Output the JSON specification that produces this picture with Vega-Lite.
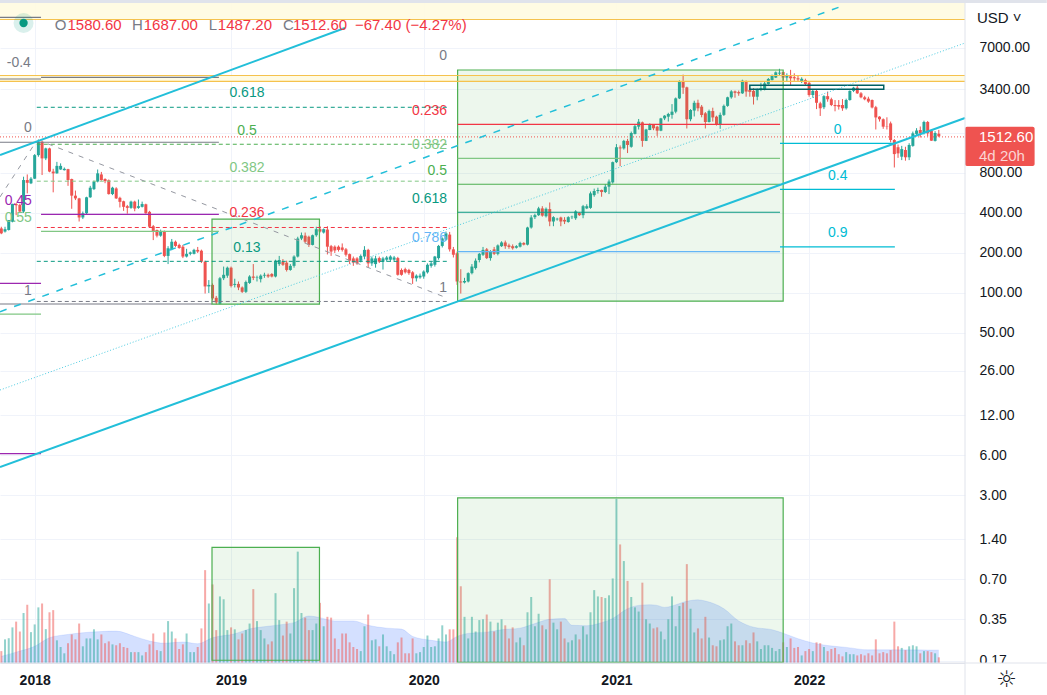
{
"$schema":"https://vega.github.io/schema/vega-lite/v6.json",
"width":965,"height":663,
"autosize":{"type":"none"},
"padding":{"left":0,"top":0,"right":82,"bottom":32},
"background":"#ffffff",
"config":{"view":{"stroke":null},"font":"Liberation Sans"},
"datasets":{
"w":[
{"d":"2017-10-30","o":306,"h":315,"l":277,"c":281,"v":0.2015},
{"d":"2017-11-06","o":290,"h":315,"l":285,"c":302,"v":0.247},
{"d":"2017-11-13","o":298,"h":354,"l":295,"c":354,"v":0.252},
{"d":"2017-11-20","o":344,"h":470,"l":340,"c":467,"v":0.304},
{"d":"2017-11-27","o":467,"h":475,"l":385,"c":457,"v":0.336},
{"d":"2017-12-04","o":460,"h":470,"l":400,"c":410,"v":0.283},
{"d":"2017-12-11","o":410,"h":750,"l":400,"c":708,"v":0.39},
{"d":"2017-12-18","o":708,"h":780,"l":562,"c":675,"v":0.45},
{"d":"2017-12-25","o":669,"h":745,"l":660,"c":725,"v":0.28},
{"d":"2018-01-01","o":725,"h":1110,"l":720,"c":1090,"v":0.32},
{"d":"2018-01-08","o":1090,"h":1430,"l":1060,"c":1375,"v":0.43},
{"d":"2018-01-15","o":1375,"h":1400,"l":772,"c":1030,"v":0.46},
{"d":"2018-01-22","o":1030,"h":1240,"l":1000,"c":1225,"v":0.295},
{"d":"2018-01-29","o":1225,"h":1240,"l":810,"c":820,"v":0.395},
{"d":"2018-02-05","o":820,"h":860,"l":572,"c":795,"v":0.41},
{"d":"2018-02-12","o":795,"h":970,"l":790,"c":905,"v":0.243},
{"d":"2018-02-19","o":850,"h":945,"l":845,"c":905,"v":0.2165},
{"d":"2018-02-26","o":840,"h":880,"l":835,"c":860,"v":0.194},
{"d":"2018-03-05","o":855,"h":860,"l":640,"c":708,"v":0.231},
{"d":"2018-03-12","o":720,"h":725,"l":430,"c":540,"v":0.269},
{"d":"2018-03-19","o":540,"h":590,"l":500,"c":515,"v":0.247},
{"d":"2018-03-26","o":515,"h":520,"l":345,"c":370,"v":0.325},
{"d":"2018-04-02","o":370,"h":410,"l":360,"c":398,"v":0.219},
{"d":"2018-04-09","o":398,"h":530,"l":390,"c":525,"v":0.251},
{"d":"2018-04-16","o":525,"h":640,"l":520,"c":620,"v":0.251},
{"d":"2018-04-23","o":605,"h":700,"l":595,"c":690,"v":0.294},
{"d":"2018-04-30","o":690,"h":850,"l":680,"c":795,"v":0.247},
{"d":"2018-05-07","o":780,"h":815,"l":700,"c":708,"v":0.269},
{"d":"2018-05-14","o":720,"h":730,"l":670,"c":695,"v":0.231},
{"d":"2018-05-21","o":705,"h":715,"l":550,"c":555,"v":0.2385},
{"d":"2018-05-28","o":555,"h":630,"l":545,"c":620,"v":0.2265},
{"d":"2018-06-04","o":612,"h":625,"l":510,"c":515,"v":0.223},
{"d":"2018-06-11","o":520,"h":530,"l":440,"c":485,"v":0.231},
{"d":"2018-06-18","o":490,"h":495,"l":415,"c":445,"v":0.2165},
{"d":"2018-06-25","o":450,"h":460,"l":395,"c":437,"v":0.213},
{"d":"2018-07-02","o":437,"h":495,"l":430,"c":487,"v":0.198},
{"d":"2018-07-09","o":487,"h":495,"l":412,"c":432,"v":0.198},
{"d":"2018-07-16","o":437,"h":505,"l":430,"c":450,"v":0.198},
{"d":"2018-07-23","o":445,"h":487,"l":440,"c":467,"v":0.187},
{"d":"2018-07-30","o":465,"h":470,"l":395,"c":398,"v":0.198},
{"d":"2018-08-06","o":408,"h":415,"l":310,"c":315,"v":0.2265},
{"d":"2018-08-13","o":318,"h":325,"l":250,"c":290,"v":0.2735},
{"d":"2018-08-20","o":298,"h":300,"l":262,"c":270,"v":0.205},
{"d":"2018-08-27","o":270,"h":300,"l":265,"c":291,"v":0.2015},
{"d":"2018-09-03","o":291,"h":295,"l":186,"c":190,"v":0.2785},
{"d":"2018-09-10","o":190,"h":225,"l":165,"c":217,"v":0.339},
{"d":"2018-09-17","o":214,"h":255,"l":210,"c":243,"v":0.283},
{"d":"2018-09-24","o":243,"h":248,"l":222,"c":226,"v":0.251},
{"d":"2018-10-01","o":230,"h":235,"l":215,"c":218,"v":0.209},
{"d":"2018-10-08","o":223,"h":230,"l":183,"c":188,"v":0.2265},
{"d":"2018-10-15","o":188,"h":215,"l":185,"c":197,"v":0.2735},
{"d":"2018-10-22","o":197,"h":205,"l":192,"c":202,"v":0.198},
{"d":"2018-10-29","o":197,"h":215,"l":195,"c":211,"v":0.198},
{"d":"2018-11-05","o":211,"h":222,"l":200,"c":205,"v":0.2165},
{"d":"2018-11-12","o":208,"h":212,"l":168,"c":172,"v":0.2987},
{"d":"2018-11-19","o":172,"h":175,"l":99,"c":112,"v":0.82},
{"d":"2018-11-26","o":112,"h":125,"l":100,"c":115,"v":0.46},
{"d":"2018-12-03","o":115,"h":118,"l":88,"c":91,"v":0.64},
{"d":"2018-12-10","o":92,"h":95,"l":82,"c":85,"v":0.29},
{"d":"2018-12-17","o":83,"h":132,"l":82,"c":129,"v":0.52},
{"d":"2018-12-24","o":129,"h":158,"l":125,"c":137,"v":0.495},
{"d":"2018-12-31","o":135,"h":158,"l":130,"c":155,"v":0.29},
{"d":"2019-01-07","o":155,"h":158,"l":110,"c":113,"v":0.304},
{"d":"2019-01-14","o":115,"h":128,"l":110,"c":117,"v":0.294},
{"d":"2019-01-21","o":117,"h":122,"l":105,"c":110,"v":0.247},
{"d":"2019-01-28","o":110,"h":112,"l":100,"c":102,"v":0.2735},
{"d":"2019-02-04","o":102,"h":124,"l":100,"c":121,"v":0.29},
{"d":"2019-02-11","o":119,"h":136,"l":117,"c":133,"v":0.325},
{"d":"2019-02-18","o":133,"h":165,"l":125,"c":130,"v":0.59},
{"d":"2019-02-25","o":130,"h":135,"l":122,"c":131,"v":0.339},
{"d":"2019-03-04","o":127,"h":138,"l":120,"c":135,"v":0.29},
{"d":"2019-03-11","o":135,"h":142,"l":130,"c":137,"v":0.251},
{"d":"2019-03-18","o":137,"h":140,"l":130,"c":133,"v":0.2265},
{"d":"2019-03-25","o":139,"h":141,"l":131,"c":133,"v":0.2385},
{"d":"2019-04-01","o":133,"h":178,"l":131,"c":175,"v":0.55},
{"d":"2019-04-08","o":165,"h":190,"l":160,"c":177,"v":0.345},
{"d":"2019-04-15","o":172,"h":180,"l":160,"c":163,"v":0.264},
{"d":"2019-04-22","o":169,"h":175,"l":145,"c":149,"v":0.336},
{"d":"2019-04-29","o":149,"h":165,"l":147,"c":160,"v":0.2735},
{"d":"2019-05-06","o":160,"h":192,"l":155,"c":188,"v":0.6},
{"d":"2019-05-13","o":188,"h":265,"l":185,"c":257,"v":1.13},
{"d":"2019-05-20","o":257,"h":285,"l":250,"c":272,"v":0.39},
{"d":"2019-05-27","o":270,"h":285,"l":238,"c":243,"v":0.36},
{"d":"2019-06-03","o":265,"h":270,"l":222,"c":230,"v":0.29},
{"d":"2019-06-10","o":230,"h":275,"l":228,"c":272,"v":0.29},
{"d":"2019-06-17","o":272,"h":315,"l":265,"c":302,"v":0.325},
{"d":"2019-06-24","o":302,"h":318,"l":285,"c":290,"v":0.465},
{"d":"2019-07-01","o":285,"h":306,"l":280,"c":302,"v":0.31},
{"d":"2019-07-08","o":300,"h":318,"l":195,"c":223,"v":0.365},
{"d":"2019-07-15","o":225,"h":230,"l":190,"c":205,"v":0.36},
{"d":"2019-07-22","o":223,"h":228,"l":200,"c":209,"v":0.251},
{"d":"2019-07-29","o":223,"h":228,"l":205,"c":211,"v":0.209},
{"d":"2019-08-05","o":220,"h":236,"l":205,"c":211,"v":0.2735},
{"d":"2019-08-12","o":213,"h":218,"l":188,"c":194,"v":0.2735},
{"d":"2019-08-19","o":196,"h":198,"l":165,"c":175,"v":0.2345},
{"d":"2019-08-26","o":182,"h":188,"l":160,"c":169,"v":0.2165},
{"d":"2019-09-02","o":182,"h":186,"l":163,"c":167,"v":0.209},
{"d":"2019-09-09","o":175,"h":195,"l":170,"c":190,"v":0.2015},
{"d":"2019-09-16","o":188,"h":225,"l":180,"c":211,"v":0.31},
{"d":"2019-09-23","o":211,"h":215,"l":155,"c":167,"v":0.38},
{"d":"2019-09-30","o":167,"h":188,"l":160,"c":182,"v":0.243},
{"d":"2019-10-07","o":165,"h":190,"l":155,"c":182,"v":0.247},
{"d":"2019-10-14","o":183,"h":188,"l":168,"c":172,"v":0.219},
{"d":"2019-10-21","o":172,"h":187,"l":150,"c":182,"v":0.269},
{"d":"2019-10-28","o":178,"h":190,"l":172,"c":185,"v":0.219},
{"d":"2019-11-04","o":178,"h":192,"l":172,"c":188,"v":0.2015},
{"d":"2019-11-11","o":178,"h":190,"l":172,"c":185,"v":0.191},
{"d":"2019-11-18","o":183,"h":187,"l":135,"c":137,"v":0.2345},
{"d":"2019-11-25","o":149,"h":153,"l":135,"c":137,"v":0.255},
{"d":"2019-12-02","o":151,"h":155,"l":140,"c":143,"v":0.194},
{"d":"2019-12-09","o":149,"h":152,"l":137,"c":141,"v":0.194},
{"d":"2019-12-16","o":143,"h":146,"l":117,"c":129,"v":0.251},
{"d":"2019-12-23","o":129,"h":138,"l":122,"c":135,"v":0.194},
{"d":"2019-12-30","o":131,"h":140,"l":128,"c":135,"v":0.198},
{"d":"2020-01-06","o":133,"h":148,"l":128,"c":145,"v":0.2165},
{"d":"2020-01-13","o":143,"h":167,"l":140,"c":163,"v":0.264},
{"d":"2020-01-20","o":160,"h":172,"l":155,"c":167,"v":0.2165},
{"d":"2020-01-27","o":163,"h":190,"l":158,"c":188,"v":0.219},
{"d":"2020-02-03","o":183,"h":230,"l":178,"c":226,"v":0.251},
{"d":"2020-02-10","o":226,"h":262,"l":220,"c":257,"v":0.315},
{"d":"2020-02-17","o":252,"h":290,"l":248,"c":281,"v":0.269},
{"d":"2020-02-24","o":275,"h":288,"l":205,"c":213,"v":0.294},
{"d":"2020-03-02","o":213,"h":222,"l":185,"c":194,"v":0.294},
{"d":"2020-03-09","o":199,"h":205,"l":115,"c":122,"v":1.45},
{"d":"2020-03-16","o":122,"h":151,"l":99,"c":120,"v":0.62},
{"d":"2020-03-23","o":120,"h":130,"l":118,"c":123,"v":0.365},
{"d":"2020-03-30","o":122,"h":143,"l":120,"c":141,"v":0.251},
{"d":"2020-04-06","o":141,"h":165,"l":138,"c":158,"v":0.365},
{"d":"2020-04-13","o":154,"h":182,"l":150,"c":175,"v":0.283},
{"d":"2020-04-20","o":177,"h":200,"l":170,"c":197,"v":0.345},
{"d":"2020-04-27","o":194,"h":222,"l":190,"c":211,"v":0.35},
{"d":"2020-05-04","o":213,"h":218,"l":180,"c":183,"v":0.38},
{"d":"2020-05-11","o":183,"h":210,"l":175,"c":205,"v":0.336},
{"d":"2020-05-18","o":213,"h":222,"l":193,"c":197,"v":0.283},
{"d":"2020-05-25","o":197,"h":232,"l":192,"c":228,"v":0.33},
{"d":"2020-06-01","o":225,"h":245,"l":222,"c":240,"v":0.35},
{"d":"2020-06-08","o":240,"h":248,"l":215,"c":225,"v":0.315},
{"d":"2020-06-15","o":228,"h":235,"l":215,"c":222,"v":0.251},
{"d":"2020-06-22","o":225,"h":232,"l":212,"c":217,"v":0.304},
{"d":"2020-06-29","o":219,"h":229,"l":216,"c":225,"v":0.2345},
{"d":"2020-07-06","o":223,"h":243,"l":220,"c":238,"v":0.255},
{"d":"2020-07-13","o":238,"h":241,"l":228,"c":231,"v":0.223},
{"d":"2020-07-20","o":231,"h":315,"l":228,"c":311,"v":0.395},
{"d":"2020-07-27","o":311,"h":385,"l":305,"c":370,"v":0.515},
{"d":"2020-08-03","o":372,"h":395,"l":360,"c":385,"v":0.31},
{"d":"2020-08-10","o":385,"h":445,"l":380,"c":433,"v":0.385},
{"d":"2020-08-17","o":433,"h":450,"l":375,"c":382,"v":0.315},
{"d":"2020-08-24","o":378,"h":440,"l":370,"c":430,"v":0.294},
{"d":"2020-08-31","o":428,"h":480,"l":318,"c":345,"v":0.7},
{"d":"2020-09-07","o":345,"h":378,"l":318,"c":372,"v":0.33},
{"d":"2020-09-14","o":358,"h":368,"l":350,"c":362,"v":0.294},
{"d":"2020-09-21","o":370,"h":375,"l":318,"c":345,"v":0.336},
{"d":"2020-09-28","o":355,"h":372,"l":330,"c":345,"v":0.251},
{"d":"2020-10-05","o":342,"h":378,"l":338,"c":372,"v":0.2345},
{"d":"2020-10-12","o":372,"h":382,"l":360,"c":375,"v":0.243},
{"d":"2020-10-19","o":365,"h":420,"l":355,"c":411,"v":0.269},
{"d":"2020-10-26","o":400,"h":405,"l":380,"c":385,"v":0.247},
{"d":"2020-11-02","o":385,"h":460,"l":365,"c":450,"v":0.31},
{"d":"2020-11-09","o":433,"h":465,"l":428,"c":450,"v":0.269},
{"d":"2020-11-16","o":437,"h":580,"l":430,"c":562,"v":0.395},
{"d":"2020-11-23","o":545,"h":610,"l":530,"c":585,"v":0.58},
{"d":"2020-11-30","o":585,"h":620,"l":560,"c":596,"v":0.52},
{"d":"2020-12-07","o":596,"h":600,"l":530,"c":575,"v":0.515},
{"d":"2020-12-14","o":575,"h":660,"l":565,"c":631,"v":0.505},
{"d":"2020-12-21","o":631,"h":715,"l":555,"c":690,"v":0.53},
{"d":"2020-12-28","o":680,"h":975,"l":665,"c":965,"v":0.71},
{"d":"2021-01-04","o":965,"h":1320,"l":950,"c":1250,"v":2.82},
{"d":"2021-01-11","o":1245,"h":1290,"l":900,"c":1225,"v":1.28},
{"d":"2021-01-18","o":1225,"h":1420,"l":1200,"c":1395,"v":0.96},
{"d":"2021-01-25","o":1395,"h":1445,"l":1130,"c":1300,"v":0.68},
{"d":"2021-02-01","o":1260,"h":1640,"l":1240,"c":1600,"v":0.515},
{"d":"2021-02-08","o":1575,"h":1870,"l":1560,"c":1800,"v":0.43},
{"d":"2021-02-15","o":1785,"h":2040,"l":1700,"c":1945,"v":0.40},
{"d":"2021-02-22","o":1925,"h":1950,"l":1260,"c":1395,"v":0.66},
{"d":"2021-03-01","o":1395,"h":1720,"l":1390,"c":1700,"v":0.35},
{"d":"2021-03-08","o":1685,"h":1890,"l":1680,"c":1840,"v":0.325},
{"d":"2021-03-15","o":1840,"h":1860,"l":1680,"c":1735,"v":0.2987},
{"d":"2021-03-22","o":1785,"h":1810,"l":1520,"c":1665,"v":0.304},
{"d":"2021-03-29","o":1665,"h":2080,"l":1650,"c":2060,"v":0.283},
{"d":"2021-04-05","o":2060,"h":2180,"l":2000,"c":2160,"v":0.247},
{"d":"2021-04-12","o":2123,"h":2270,"l":1950,"c":2225,"v":0.35},
{"d":"2021-04-19","o":2190,"h":2640,"l":2050,"c":2315,"v":0.52},
{"d":"2021-04-26","o":2315,"h":2960,"l":2250,"c":2915,"v":0.31},
{"d":"2021-05-03","o":2915,"h":3990,"l":2880,"c":3940,"v":0.44},
{"d":"2021-05-10","o":3940,"h":4400,"l":3150,"c":3510,"v":0.465},
{"d":"2021-05-17","o":3530,"h":3570,"l":1730,"c":2030,"v":0.91},
{"d":"2021-05-24","o":2030,"h":2420,"l":1960,"c":2383,"v":0.42},
{"d":"2021-05-31","o":2360,"h":2800,"l":2130,"c":2700,"v":0.2785},
{"d":"2021-06-07","o":2700,"h":2850,"l":2330,"c":2455,"v":0.2987},
{"d":"2021-06-14","o":2525,"h":2600,"l":2100,"c":2185,"v":0.251},
{"d":"2021-06-21","o":2250,"h":2300,"l":1730,"c":1935,"v":0.365},
{"d":"2021-06-28","o":1935,"h":2400,"l":1920,"c":2340,"v":0.255},
{"d":"2021-07-05","o":2340,"h":2480,"l":1950,"c":2095,"v":0.223},
{"d":"2021-07-12","o":2123,"h":2160,"l":1820,"c":1860,"v":0.219},
{"d":"2021-07-19","o":1860,"h":2280,"l":1720,"c":2190,"v":0.243},
{"d":"2021-07-26","o":2190,"h":2620,"l":2150,"c":2560,"v":0.247},
{"d":"2021-08-02","o":2560,"h":3000,"l":2520,"c":2970,"v":0.31},
{"d":"2021-08-09","o":2970,"h":3360,"l":2900,"c":3290,"v":0.325},
{"d":"2021-08-16","o":3290,"h":3340,"l":2950,"c":3210,"v":0.2385},
{"d":"2021-08-23","o":3250,"h":3340,"l":3050,"c":3180,"v":0.223},
{"d":"2021-08-30","o":3180,"h":4030,"l":3150,"c":3960,"v":0.223},
{"d":"2021-09-06","o":3920,"h":3980,"l":3000,"c":3280,"v":0.243},
{"d":"2021-09-13","o":3370,"h":3500,"l":3000,"c":3260,"v":0.231},
{"d":"2021-09-20","o":3320,"h":3480,"l":2620,"c":3000,"v":0.2785},
{"d":"2021-09-27","o":3000,"h":3460,"l":2820,"c":3400,"v":0.2385},
{"d":"2021-10-04","o":3400,"h":3820,"l":3300,"c":3480,"v":0.209},
{"d":"2021-10-11","o":3370,"h":3900,"l":3350,"c":3782,"v":0.223},
{"d":"2021-10-18","o":3740,"h":4150,"l":3700,"c":4080,"v":0.223},
{"d":"2021-10-25","o":4000,"h":4400,"l":3980,"c":4350,"v":0.213},
{"d":"2021-11-01","o":4180,"h":4650,"l":4150,"c":4580,"v":0.2015},
{"d":"2021-11-08","o":4480,"h":4868,"l":4300,"c":4550,"v":0.209},
{"d":"2021-11-15","o":4600,"h":4620,"l":3950,"c":4180,"v":0.2345},
{"d":"2021-11-22","o":4180,"h":4500,"l":3900,"c":4290,"v":0.2165},
{"d":"2021-11-29","o":4270,"h":4780,"l":3640,"c":4130,"v":0.251},
{"d":"2021-12-06","o":4210,"h":4500,"l":3950,"c":4130,"v":0.213},
{"d":"2021-12-13","o":4130,"h":4300,"l":3900,"c":4050,"v":0.2165},
{"d":"2021-12-20","o":3900,"h":4200,"l":3800,"c":4090,"v":0.187},
{"d":"2021-12-27","o":4000,"h":4100,"l":3650,"c":3740,"v":0.2015},
{"d":"2022-01-03","o":3820,"h":3900,"l":3000,"c":3090,"v":0.209},
{"d":"2022-01-10","o":3090,"h":3400,"l":2950,"c":3320,"v":0.2015},
{"d":"2022-01-17","o":3320,"h":3400,"l":2420,"c":2700,"v":0.2345},
{"d":"2022-01-24","o":2675,"h":2750,"l":2150,"c":2455,"v":0.231},
{"d":"2022-01-31","o":2500,"h":3080,"l":2420,"c":3030,"v":0.2165},
{"d":"2022-02-07","o":3030,"h":3280,"l":2750,"c":2870,"v":0.2015},
{"d":"2022-02-14","o":2870,"h":2950,"l":2550,"c":2600,"v":0.209},
{"d":"2022-02-21","o":2600,"h":2830,"l":2330,"c":2550,"v":0.213},
{"d":"2022-02-28","o":2600,"h":2830,"l":2400,"c":2525,"v":0.191},
{"d":"2022-03-07","o":2600,"h":2880,"l":2350,"c":2455,"v":0.184},
{"d":"2022-03-14","o":2455,"h":2900,"l":2400,"c":2833,"v":0.198},
{"d":"2022-03-21","o":2833,"h":3350,"l":2800,"c":3320,"v":0.191},
{"d":"2022-03-28","o":3320,"h":3560,"l":3250,"c":3510,"v":0.191},
{"d":"2022-04-04","o":3510,"h":3620,"l":3150,"c":3180,"v":0.187},
{"d":"2022-04-11","o":3180,"h":3250,"l":2920,"c":2970,"v":0.191},
{"d":"2022-04-18","o":2970,"h":3050,"l":2820,"c":2870,"v":0.187},
{"d":"2022-04-25","o":2900,"h":3000,"l":2700,"c":2760,"v":0.194},
{"d":"2022-05-02","o":2833,"h":2860,"l":2450,"c":2490,"v":0.187},
{"d":"2022-05-09","o":2500,"h":2560,"l":1700,"c":2095,"v":0.247},
{"d":"2022-05-16","o":2123,"h":2140,"l":1950,"c":2030,"v":0.194},
{"d":"2022-05-23","o":2030,"h":2060,"l":1720,"c":1785,"v":0.198},
{"d":"2022-05-30","o":1800,"h":2100,"l":1700,"c":1790,"v":0.194},
{"d":"2022-06-06","o":1890,"h":1950,"l":1360,"c":1417,"v":0.205},
{"d":"2022-06-13","o":1417,"h":1440,"l":880,"c":1110,"v":0.336},
{"d":"2022-06-20","o":1250,"h":1310,"l":1040,"c":1124,"v":0.219},
{"d":"2022-06-27","o":1061,"h":1280,"l":1000,"c":1210,"v":0.213},
{"d":"2022-07-04","o":1191,"h":1260,"l":990,"c":1050,"v":0.205},
{"d":"2022-07-11","o":1050,"h":1340,"l":1000,"c":1300,"v":0.219},
{"d":"2022-07-18","o":1280,"h":1640,"l":1260,"c":1590,"v":0.223},
{"d":"2022-07-25","o":1575,"h":1740,"l":1520,"c":1670,"v":0.219},
{"d":"2022-08-01","o":1685,"h":1790,"l":1480,"c":1590,"v":0.194},
{"d":"2022-08-08","o":1600,"h":1980,"l":1560,"c":1935,"v":0.2015},
{"d":"2022-08-15","o":1935,"h":1970,"l":1510,"c":1590,"v":0.2015},
{"d":"2022-08-22","o":1660,"h":1700,"l":1395,"c":1400,"v":0.198},
{"d":"2022-08-29","o":1395,"h":1650,"l":1380,"c":1600,"v":0.194},
{"d":"2022-09-05","o":1580.6,"h":1687,"l":1487.2,"c":1512.6,"v":0.181}
],
"ma":[
{"d":"2017-10-30","m":0.184},{"d":"2017-11-27","m":0.198},{"d":"2018-01-01","m":0.219},{"d":"2018-01-29","m":0.254},
{"d":"2018-03-05","m":0.269},{"d":"2018-04-02","m":0.277},{"d":"2018-05-07","m":0.283},{"d":"2018-06-04","m":0.285},
{"d":"2018-07-09","m":0.26},{"d":"2018-08-06","m":0.24},{"d":"2018-09-03","m":0.231},{"d":"2018-10-08","m":0.236},
{"d":"2018-11-05","m":0.229},{"d":"2018-12-03","m":0.254},{"d":"2019-01-14","m":0.272},{"d":"2019-02-11","m":0.296},
{"d":"2019-03-18","m":0.31},{"d":"2019-04-15","m":0.32},{"d":"2019-05-06","m":0.33},{"d":"2019-06-03","m":0.37},
{"d":"2019-06-24","m":0.36},{"d":"2019-07-22","m":0.34},{"d":"2019-08-26","m":0.34},{"d":"2019-09-23","m":0.315},
{"d":"2019-10-28","m":0.30},{"d":"2019-11-25","m":0.295},{"d":"2019-12-16","m":0.26},{"d":"2020-01-20","m":0.243},
{"d":"2020-02-17","m":0.236},{"d":"2020-03-09","m":0.26},{"d":"2020-03-30","m":0.274},{"d":"2020-05-04","m":0.28},
{"d":"2020-06-01","m":0.292},{"d":"2020-07-06","m":0.30},{"d":"2020-08-03","m":0.325},{"d":"2020-08-31","m":0.35},
{"d":"2020-09-28","m":0.355},{"d":"2020-10-12","m":0.315},{"d":"2020-11-09","m":0.313},{"d":"2020-12-07","m":0.33},
{"d":"2020-12-28","m":0.355},{"d":"2021-01-25","m":0.42},{"d":"2021-02-15","m":0.445},{"d":"2021-03-08","m":0.45},
{"d":"2021-03-22","m":0.445},{"d":"2021-04-05","m":0.43},{"d":"2021-04-19","m":0.44},{"d":"2021-05-10","m":0.47},
{"d":"2021-06-07","m":0.49},{"d":"2021-06-21","m":0.48},{"d":"2021-07-26","m":0.42},{"d":"2021-08-23","m":0.34},
{"d":"2021-09-20","m":0.305},{"d":"2021-10-25","m":0.292},{"d":"2021-11-15","m":0.275},{"d":"2021-12-13","m":0.25},
{"d":"2022-01-10","m":0.232},{"d":"2022-02-07","m":0.222},{"d":"2022-03-14","m":0.215},{"d":"2022-04-25","m":0.206},
{"d":"2022-06-13","m":0.206},{"d":"2022-09-05","m":0.205}
]
},
"data":{"name":"w"},
"layer":[
{"data":{"values":[
{"a":"2017-10-27T12:00:00","b":"2022-10-24T12:00:00","p":11440,"q":15220},
{"a":"2017-10-27T12:00:00","b":"2022-10-24T12:00:00","p":3920,"q":4334}
]},
"mark":{"type":"rect","fill":"#fffbe0","opacity":0.9},
"encoding":{
"x":{"field":"a","type":"temporal","title":null,
"scale":{"domain":["2017-10-27T12:00:00","2022-10-24T12:00:00"]},
"axis":{"values":["2018-01-01T00:00:00","2019-01-07T00:00:00","2020-01-06T00:00:00","2021-01-04T00:00:00","2022-01-03T00:00:00"],"format":"%Y","labelFontSize":14,"labelFontWeight":"bold","labelColor":"#131722","labelPadding":10,"labelFlush":false,"tickSize":0,"domainColor":"#e0e3eb","gridColor":"#f0f3fa","grid":true,"title":null}},
"x2":{"field":"b"},
"y":{"field":"p","type":"quantitative","title":null,
"scale":{"type":"log","domain":[0.164,16036],"nice":false},
"axis":{"orient":"right","values":[7000,3400,1600,800,400,200,100,50,26,12,6,3,1.4,0.7,0.35,0.17],"labelExpr":"datum.value==1600?'':format(datum.value,'.2f')","labelFontSize":14,"labelColor":"#131722","labelPadding":14,"labelFlush":false,"tickSize":0,"domain":false,"gridColor":"#f0f3fa","grid":true,"title":null}},
"y2":{"field":"q"}}},
{"data":{"name":"ma"},"mark":{"type":"area","color":"#2962ff","opacity":0.2,"interpolate":"monotone","line":{"color":"#2962ff","opacity":0.12,"strokeWidth":1}},
"encoding":{"x":{"field":"d","type":"temporal","title":null},"y":{"field":"m","type":"quantitative","title":null},"y2":{"datum":0.164}}},
{"mark":{"type":"rule","strokeWidth":2,"opacity":0.5},
"encoding":{"x":{"field":"d","type":"temporal","title":null},"y":{"field":"v","type":"quantitative","title":null},"y2":{"datum":0.164},
"color":{"condition":{"test":"datum.c>=datum.o","value":"#26a69a"},"value":"#ef5350"}}},
{"mark":{"type":"rule","strokeWidth":1},
"encoding":{"x":{"field":"d","type":"temporal","title":null},"y":{"field":"l","type":"quantitative","title":null},"y2":{"field":"h"},
"color":{"condition":{"test":"datum.c>=datum.o","value":"#26a69a"},"value":"#ef5350"}}},
{"mark":{"type":"rule","strokeWidth":3},
"encoding":{"x":{"field":"d","type":"temporal","title":null},"y":{"field":"o","type":"quantitative","title":null},"y2":{"field":"c"},
"color":{"condition":{"test":"datum.c>=datum.o","value":"#26a69a"},"value":"#ef5350"}}},
{"data":{"values":[
{"a":"2018-12-02","b":"2019-06-23","p":82.3,"q":359},
{"a":"2020-03-10","b":"2021-11-15","p":86.8,"q":4767},
{"a":"2018-12-02","b":"2019-06-23","p":0.172,"q":1.218},
{"a":"2020-03-10","b":"2021-11-15","p":0.166,"q":2.865}
]},
"mark":{"type":"rect","fill":"#4caf50","fillOpacity":0.1,"stroke":"#4caf50","strokeWidth":1.2},
"encoding":{"x":{"field":"a","type":"temporal","title":null},"x2":{"field":"b"},"y":{"field":"p","type":"quantitative","title":null},"y2":{"field":"q"}}},
{"data":{"values":[
{"a":"2021-09-13","b":"2022-05-24","p":3413,"q":3657}
]},
"mark":{"type":"rect","fillOpacity":0,"stroke":"#006064","strokeWidth":1.5},
"encoding":{"x":{"field":"a","type":"temporal","title":null},"x2":{"field":"b"},"y":{"field":"p","type":"quantitative","title":null},"y2":{"field":"q"}}},
{"data":{"values":[
{"g":"orange","a":"2017-10-27T12:00:00","b":"2022-10-24T12:00:00","p":11440},
{"g":"orange","a":"2017-10-27T12:00:00","b":"2022-10-24T12:00:00","p":4334},
{"g":"orange","a":"2017-10-27T12:00:00","b":"2022-10-24T12:00:00","p":3920},
{"g":"gray","a":"2017-10-27T12:00:00","b":"2018-01-13","p":11880},
{"g":"gray","a":"2017-10-27T12:00:00","b":"2018-01-13","p":4078},
{"g":"gray","a":"2018-01-13","b":"2018-12-15","p":4200},
{"g":"gray","a":"2017-10-27T12:00:00","b":"2018-12-15","p":1363},
{"g":"gray","a":"2017-10-27T12:00:00","b":"2018-12-02","p":82.6},
{"g":"purple","a":"2018-01-13","b":"2018-12-15","p":391},
{"g":"purple","a":"2017-10-27T12:00:00","b":"2018-01-13","p":118},
{"g":"purple","a":"2017-10-27T12:00:00","b":"2018-01-13","p":6.18},
{"g":"lgreen","a":"2018-01-13","b":"2018-12-15","p":291},
{"g":"lgreen","a":"2017-10-27T12:00:00","b":"2018-01-13","p":69.2},
{"g":"red","a":"2020-03-10","b":"2021-11-09","p":1857},
{"g":"lgreen","a":"2020-03-10","b":"2021-11-09","p":1032},
{"g":"green","a":"2020-03-10","b":"2021-11-09","p":658},
{"g":"teal","a":"2020-03-10","b":"2021-11-09","p":405},
{"g":"blue","a":"2020-03-10","b":"2021-11-09","p":205},
{"g":"cyan","a":"2021-11-09","b":"2022-06-14","p":1336},
{"g":"cyan","a":"2021-11-09","b":"2022-06-14","p":603},
{"g":"cyan","a":"2021-11-09","b":"2022-06-14","p":222}
]},
"mark":{"type":"rule","strokeWidth":1.2},
"encoding":{"x":{"field":"a","type":"temporal","title":null},"x2":{"field":"b"},"y":{"field":"p","type":"quantitative","title":null},
"color":{"field":"g","type":"nominal","legend":null,
"scale":{"domain":["orange","gray","purple","lgreen","red","green","teal","blue","cyan","white","dim","text"],"range":["#f5c24d","#787b86","#9c27b0","#81c784","#f23645","#4caf50","#089981","#64b5f6","#00bcd4","#ffffff","#fbd5d4","#131722"]}}}},
{"data":{"values":[
{"g":"teal","a":"2018-01-05","b":"2020-02-21","p":2498},
{"g":"green","a":"2018-01-05","b":"2020-02-21","p":1316},
{"g":"lgreen","a":"2018-01-05","b":"2020-02-21","p":694},
{"g":"red","a":"2018-01-05","b":"2020-02-21","p":311},
{"g":"teal","a":"2018-01-05","b":"2020-02-21","p":173},
{"g":"gray","a":"2018-01-05","b":"2020-02-21","p":86.3}
]},
"mark":{"type":"rule","strokeWidth":1,"strokeDash":[4,3]},
"encoding":{"x":{"field":"a","type":"temporal","title":null},"x2":{"field":"b"},"y":{"field":"p","type":"quantitative","title":null},
"color":{"field":"g","type":"nominal","legend":null}}},
{"data":{"values":[{"a":"2017-10-27T12:00:00","b":"2022-10-24T12:00:00","p":1495}]},
"mark":{"type":"rule","strokeWidth":1,"strokeDash":[1,2],"color":"#ef5350"},
"encoding":{"x":{"field":"a","type":"temporal","title":null},"x2":{"field":"b"},"y":{"field":"p","type":"quantitative","title":null}}},
{"data":{"values":[
{"d":"2017-10-27T12:00:00","p":528,"k":"a"},{"d":"2018-01-02","p":1345,"k":"a"},
{"d":"2018-01-26","p":1325,"k":"b"},{"d":"2020-02-19","p":91.7,"k":"b"}
]},
"mark":{"type":"line","color":"#9598a1","strokeWidth":1,"strokeDash":[5,6]},
"encoding":{"x":{"field":"d","type":"temporal","title":null},"y":{"field":"p","type":"quantitative","title":null},"detail":{"field":"k"}}},
{"data":{"values":[
{"d":"2017-10-27T12:00:00","p":4.9,"k":"a"},{"d":"2022-10-24T12:00:00","p":2075,"k":"a"},
{"d":"2017-10-27T12:00:00","p":1093,"k":"b"},{"d":"2019-08-10","p":9873,"k":"b"}
]},
"mark":{"type":"line","color":"#22bfd9","strokeWidth":2},
"encoding":{"x":{"field":"d","type":"temporal","title":null},"y":{"field":"p","type":"quantitative","title":null},"detail":{"field":"k"}}},
{"data":{"values":[
{"d":"2017-10-27T12:00:00","p":72.3},{"d":"2022-03-12","p":14703}
]},
"mark":{"type":"line","color":"#22bfd9","strokeWidth":1.5,"strokeDash":[7,8]},
"encoding":{"x":{"field":"d","type":"temporal","title":null},"y":{"field":"p","type":"quantitative","title":null}}},
{"data":{"values":[
{"d":"2017-10-27T12:00:00","p":18.6},{"d":"2022-10-24T12:00:00","p":7610}
]},
"mark":{"type":"line","color":"#22bfd9","strokeWidth":1,"strokeDash":[1,2],"opacity":0.8},
"encoding":{"x":{"field":"d","type":"temporal","title":null},"y":{"field":"p","type":"quantitative","title":null}}},
{"data":{"values":[
{"a":"2022-10-24T12:00:00","b":"2023-03-05","p":903,"q":1785}
]},
"mark":{"type":"rect","fill":"#ef5350","cornerRadius":2},
"encoding":{"x":{"field":"a","type":"temporal","title":null},"x2":{"field":"b"},"y":{"field":"p","type":"quantitative","title":null},"y2":{"field":"q"}}},
{"data":{"values":[
{"a":"2022-10-24T12:00:00","b":"2023-03-28","p":0.0944,"q":0.164}
]},
"mark":{"type":"rect","fill":"#ffffff"},
"encoding":{"x":{"field":"a","type":"temporal","title":null},"x2":{"field":"b"},"y":{"field":"p","type":"quantitative","title":null},"y2":{"field":"q"}}},
{"data":{"values":[
{"a":"2017-10-27T12:00:00","b":"2023-03-28","p":15220,"q":16036}
]},
"mark":{"type":"rect","fill":"#e0e3eb"},
"encoding":{"x":{"field":"a","type":"temporal","title":null},"x2":{"field":"b"},"y":{"field":"p","type":"quantitative","title":null},"y2":{"field":"q"}}},
{"data":{"values":[
{"a":"2017-10-27T12:00:00","b":"2023-03-28","p":0.164}
]},
"mark":{"type":"rule","strokeWidth":1,"color":"#e0e3eb"},
"encoding":{"x":{"field":"a","type":"temporal","title":null},"x2":{"field":"b"},"y":{"field":"p","type":"quantitative","title":null}}},
{"data":{"values":[
{"d":"2022-10-24T12:00:00","p":16036,"q":0.0944}
]},
"mark":{"type":"rule","strokeWidth":1,"color":"#e0e3eb"},
"encoding":{"x":{"field":"d","type":"temporal","title":null},"y":{"field":"p","type":"quantitative","title":null},"y2":{"field":"q"}}},
{"data":{"values":[{"d":"2017-12-11","p":10763}]},
"mark":{"type":"point","shape":"circle","filled":true,"size":400,"color":"#089981","opacity":0.15},
"encoding":{"x":{"field":"d","type":"temporal","title":null},"y":{"field":"p","type":"quantitative","title":null}}},
{"data":{"values":[{"d":"2017-12-11","p":10763}]},
"mark":{"type":"point","shape":"circle","filled":true,"size":70,"color":"#089981","opacity":1},
"encoding":{"x":{"field":"d","type":"temporal","title":null},"y":{"field":"p","type":"quantitative","title":null}}},
{"data":{"values":[
{"d":"2019-02-06","p":3200,"t":"0.618","g":"teal"},
{"d":"2019-02-06","p":1656,"t":"0.5","g":"green"},
{"d":"2019-02-06","p":872,"t":"0.382","g":"lgreen"},
{"d":"2019-02-06","p":400,"t":"0.236","g":"red"},
{"d":"2019-02-06","p":218,"t":"0.13","g":"teal"},
{"d":"2017-12-19","p":1745,"t":"0","g":"gray"},
{"d":"2017-12-19","p":103.5,"t":"1","g":"gray"},
{"d":"2017-12-02","p":5382,"t":"-0.4","g":"gray"},
{"d":"2017-12-01","p":492,"t":"0.45","g":"purple"},
{"d":"2017-12-01","p":367,"t":"0.55","g":"lgreen"},
{"d":"2022-02-26","p":1685,"t":"0","g":"cyan"},
{"d":"2022-02-26","p":759,"t":"0.4","g":"cyan"},
{"d":"2022-02-26","p":283,"t":"0.9","g":"cyan"}
]},
"mark":{"type":"text","fontSize":14,"align":"center","baseline":"middle"},
"encoding":{"x":{"field":"d","type":"temporal","title":null},"y":{"field":"p","type":"quantitative","title":null},"text":{"field":"t"},"color":{"field":"g","type":"nominal","legend":null}}},
{"data":{"values":[
{"d":"2020-02-19","p":2342,"t":"0.236","g":"red"},
{"d":"2020-02-19","p":1300,"t":"0.382","g":"lgreen"},
{"d":"2020-02-19","p":828,"t":"0.5","g":"green"},
{"d":"2020-02-19","p":510,"t":"0.618","g":"teal"},
{"d":"2020-02-19","p":259,"t":"0.786","g":"blue"},
{"d":"2020-02-19","p":6077,"t":"0","g":"gray"},
{"d":"2020-02-19","p":109,"t":"1","g":"gray"}
]},
"mark":{"type":"text","fontSize":14,"align":"right","baseline":"middle"},
"encoding":{"x":{"field":"d","type":"temporal","title":null},"y":{"field":"p","type":"quantitative","title":null},"text":{"field":"t"},"color":{"field":"g","type":"nominal","legend":null}}},
{"data":{"values":[
{"d":"2018-02-08","p":10397,"t":"O","g":"gray"},
{"d":"2018-03-04","p":10397,"t":"1580.60","g":"red"},
{"d":"2018-07-04","p":10397,"t":"H","g":"gray"},
{"d":"2018-07-26","p":10397,"t":"1687.00","g":"red"},
{"d":"2018-11-26","p":10397,"t":"L","g":"gray"},
{"d":"2018-12-13","p":10397,"t":"1487.20","g":"red"},
{"d":"2019-04-15","p":10397,"t":"C","g":"gray"},
{"d":"2019-05-04","p":10397,"t":"1512.60","g":"red"},
{"d":"2019-08-29","p":10397,"t":"−67.40 (−4.27%)","g":"red"},
{"d":"2022-11-16","p":11740,"t":"USD ˅","g":"text"},
{"d":"2022-11-20","p":1490,"t":"1512.60","g":"white"},
{"d":"2022-11-20","p":1074,"t":"4d 20h","g":"dim"}
]},
"mark":{"type":"text","fontSize":15,"align":"left","baseline":"middle"},
"encoding":{"x":{"field":"d","type":"temporal","title":null},"y":{"field":"p","type":"quantitative","title":null},"text":{"field":"t"},"color":{"field":"g","type":"nominal","legend":null}}},
{"data":{"values":[{"d":"2023-01-11","p":0.1223,"t":"☼"}]},
"mark":{"type":"text","font":"DejaVu Sans","fontSize":23,"color":"#131722","align":"center","baseline":"middle"},
"encoding":{"x":{"field":"d","type":"temporal","title":null},"y":{"field":"p","type":"quantitative","title":null},"text":{"field":"t"}}}
]
}
